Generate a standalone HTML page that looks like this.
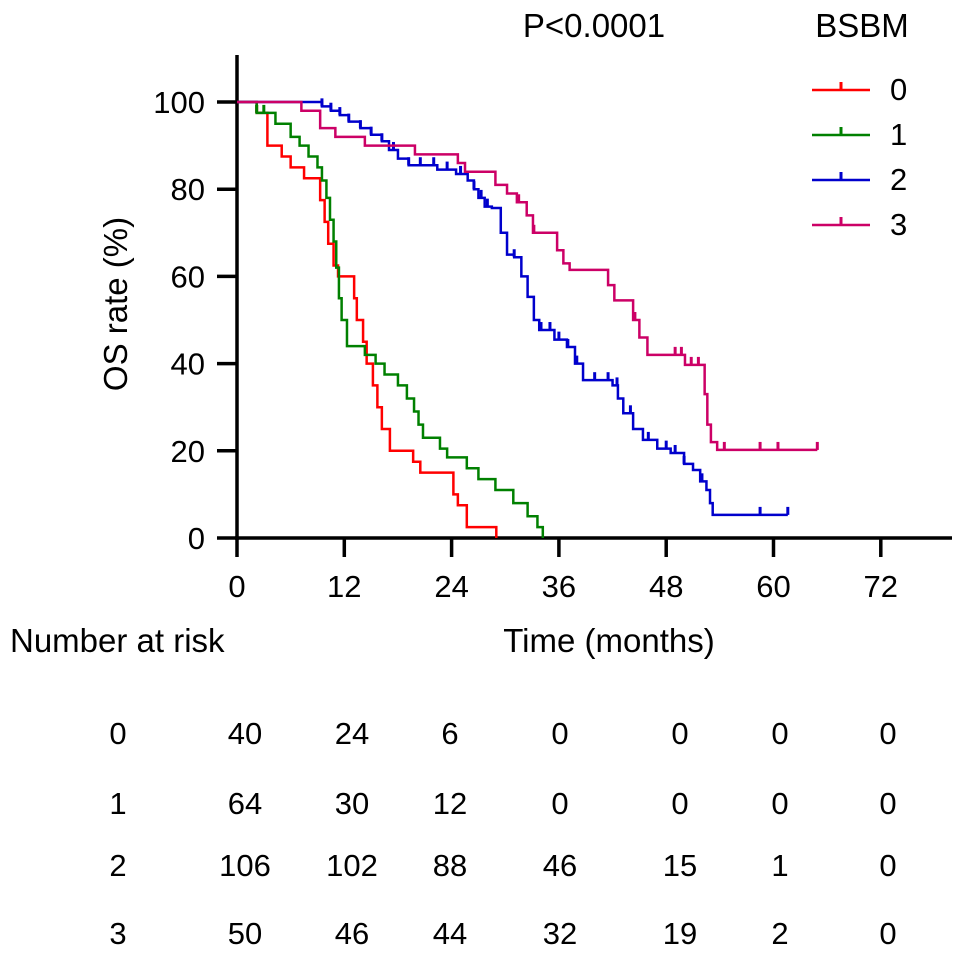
<!DOCTYPE html>
<html><head><meta charset="utf-8"><style>
body{margin:0;background:#fff;}
svg text{font-family:"Liberation Sans",Arial,sans-serif;fill:#000;}
</style></head><body>
<svg width="969" height="956" viewBox="0 0 969 956" id="chart">
<g id="axes"></g><g id="curves"></g><g id="legend"></g><g id="risk"></g>
</svg>
<script>
const xTicks=[0,12,24,36,48,60,72];
const yTicks=[0,20,40,60,80,100];
const groups=["0","1","2","3"];
const colors=["#ff0000","#008000","#0000cc","#cc0066"];
const s0=[[0,100],[2.2,97.5],[3.4,90],[5,87.5],[6,85],[7.5,82.5],[9.3,77.5],[9.8,72.5],[10.2,67.5],[10.8,62.5],[11.3,60],[13.1,55],[13.4,50],[14.1,45],[14.5,40],[15.2,35],[15.7,30],[16.2,25],[17.1,20],[19.7,17.5],[20.5,15],[24.2,10],[24.7,7.5],[25.7,2.5],[29,0]];
const s1=[[0,100],[2.2,97.5],[4.3,95],[6,92],[7,90],[8,87.5],[9,85],[9.5,82],[10,78],[10.4,73],[10.8,68],[11.1,62],[11.4,55],[11.7,50],[12.3,44],[14.3,42],[15.5,40],[16.5,37.5],[18,35],[19,32],[19.8,29],[20.3,26],[20.8,23],[22.7,20.5],[23.5,18.5],[25.7,16],[27,13.5],[28.9,11],[30.9,8],[32.5,5],[33.6,2.5],[34.2,0]];
const s2=[[0,100],[9.5,99],[10.5,98],[11.5,97],[12.5,95.5],[13.8,94],[15,92.5],[16.2,91],[17,89],[18,87],[19.2,85.5],[22.4,84.5],[24.5,83.5],[25.8,82],[26.5,80],[27,78],[27.7,76],[28.5,75.7],[29.5,70],[30.2,65],[31,64.4],[31.8,60],[32.5,55.3],[33.2,50],[33.8,47.7],[35.5,45.5],[36.9,43.8],[37.8,40],[38.7,36.2],[42,35],[42.6,32],[43.2,28.6],[44.3,25],[45.4,22.5],[47,20.5],[48.5,19.5],[50,17],[51,15.6],[51.8,13],[52.5,11],[52.9,8],[53.2,5.3],[61.6,5.3]];
const s3=[[0,100],[7.2,98],[9.3,94],[11,92],[14.3,90],[19.9,88],[24.7,86],[25.5,84],[28.9,81],[30.2,79],[31.3,77],[32.4,74],[33.1,70],[35.8,66],[36.5,63],[37.2,61.5],[41.5,58],[42.2,54.5],[44.3,50],[45,46],[45.9,42],[50.1,39.7],[52.3,33],[52.6,26],[53,22],[53.7,20.2],[64.9,20.2]];
const c0=[2.2];
const c1=[2.2,3];
const c2=[9.5,10.5,11.5,12.5,13.8,15,16.2,17.5,19.2,20.5,22,23.5,25,26.5,27.3,28,31,34,35,36,37,38,40,41.5,42.5,44,46,48,49,50,52,58.5,61.6];
const c3=[31.5,33.2,44.5,49,49.7,50.8,51.6,54.5,58.5,60.5,64.9];
const riskRows=[[40,24,6,0,0,0,0],[64,30,12,0,0,0,0],[106,102,88,46,15,1,0],[50,46,44,32,19,2,0]];
const NS="http://www.w3.org/2000/svg";
const X=t=>237+t*107.3/12, Y=v=>538-v*4.36;
function mk(tag,attrs,parent,txt){const e=document.createElementNS(NS,tag);for(const k in attrs)e.setAttribute(k,attrs[k]);if(txt!==undefined)e.textContent=txt;parent.appendChild(e);return e;}
const axes=document.getElementById('axes');
let e=mk('line',{x1:237,y1:55,x2:237,y2:540,stroke:'#000','stroke-width':3.5},axes);


e=mk('line',{x1:235,y1:538,x2:952,y2:538,stroke:'#000','stroke-width':3.5},axes);


xTicks.forEach(t=>{mk('line',{x1:X(t),y1:538,x2:X(t),y2:557,stroke:'#000','stroke-width':3.5},axes);
 const l=mk('text',{x:X(t),y:597,'font-size':31,'text-anchor':'middle'},axes,t);
 
 });
yTicks.forEach(v=>{mk('line',{x1:217,y1:Y(v),x2:237,y2:Y(v),stroke:'#000','stroke-width':3.5},axes);
 const l=mk('text',{x:205,y:Y(v)+11,'font-size':31,'text-anchor':'end'},axes,v);
 
 });
e=mk('text',{x:0,y:0,'font-size':33,'text-anchor':'middle',transform:'translate(127,304) rotate(-90)'},axes,'OS rate (%)');


e=mk('text',{x:609,y:652,'font-size':33,'text-anchor':'middle'},axes,'Time (months)');


e=mk('text',{x:594,y:37,'font-size':33,'text-anchor':'middle'},axes,'P<0.0001');


const curves=document.getElementById('curves');
function stepVal(s,t){let v=s[0][1];for(const p of s){if(p[0]<=t)v=p[1];}return v;}
[s0,s1,s2,s3].forEach((s,i)=>{let d='M'+X(s[0][0])+','+Y(s[0][1]);
 for(let k=1;k<s.length;k++){d+=' H'+X(s[k][0])+' V'+Y(s[k][1]);}
 const p=mk('path',{d:d,fill:'none',stroke:colors[i],'stroke-width':2.5},curves);
 
 
 [c0,c1,c2,c3][i].forEach(t=>{const v=stepVal(s,t);
  const c=mk('line',{x1:X(t),y1:Y(v),x2:X(t),y2:Y(v)-8,stroke:colors[i],'stroke-width':3},curves);
  
  });});
const legend=document.getElementById('legend');
e=mk('text',{x:862,y:37,'font-size':33,'text-anchor':'middle'},legend,'BSBM');


groups.forEach((g,i)=>{const y=90+i*45;
 const gr=mk('g',{},legend);
 
 
 mk('line',{x1:812,y1:y,x2:870,y2:y,stroke:colors[i],'stroke-width':2.5},gr);
 mk('line',{x1:841,y1:y,x2:841,y2:y-8,stroke:colors[i],'stroke-width':3},gr);
 mk('text',{x:890,y:y+10,'font-size':31},gr,g);});
const risk=document.getElementById('risk');
e=mk('text',{x:10,y:652,'font-size':33},risk,'Number at risk');


const rowY=[744,814,876,944];
const colX=[245,352,450,560,680,780,888];
riskRows.forEach((r,i)=>{const l=mk('text',{x:118,y:rowY[i],'font-size':31,'text-anchor':'middle'},risk,groups[i]);
 
 
 r.forEach((v,j)=>{const c=mk('text',{x:colX[j],y:rowY[i],'font-size':31,'text-anchor':'middle'},risk,v);
  
  });});
</script>
</body></html>
